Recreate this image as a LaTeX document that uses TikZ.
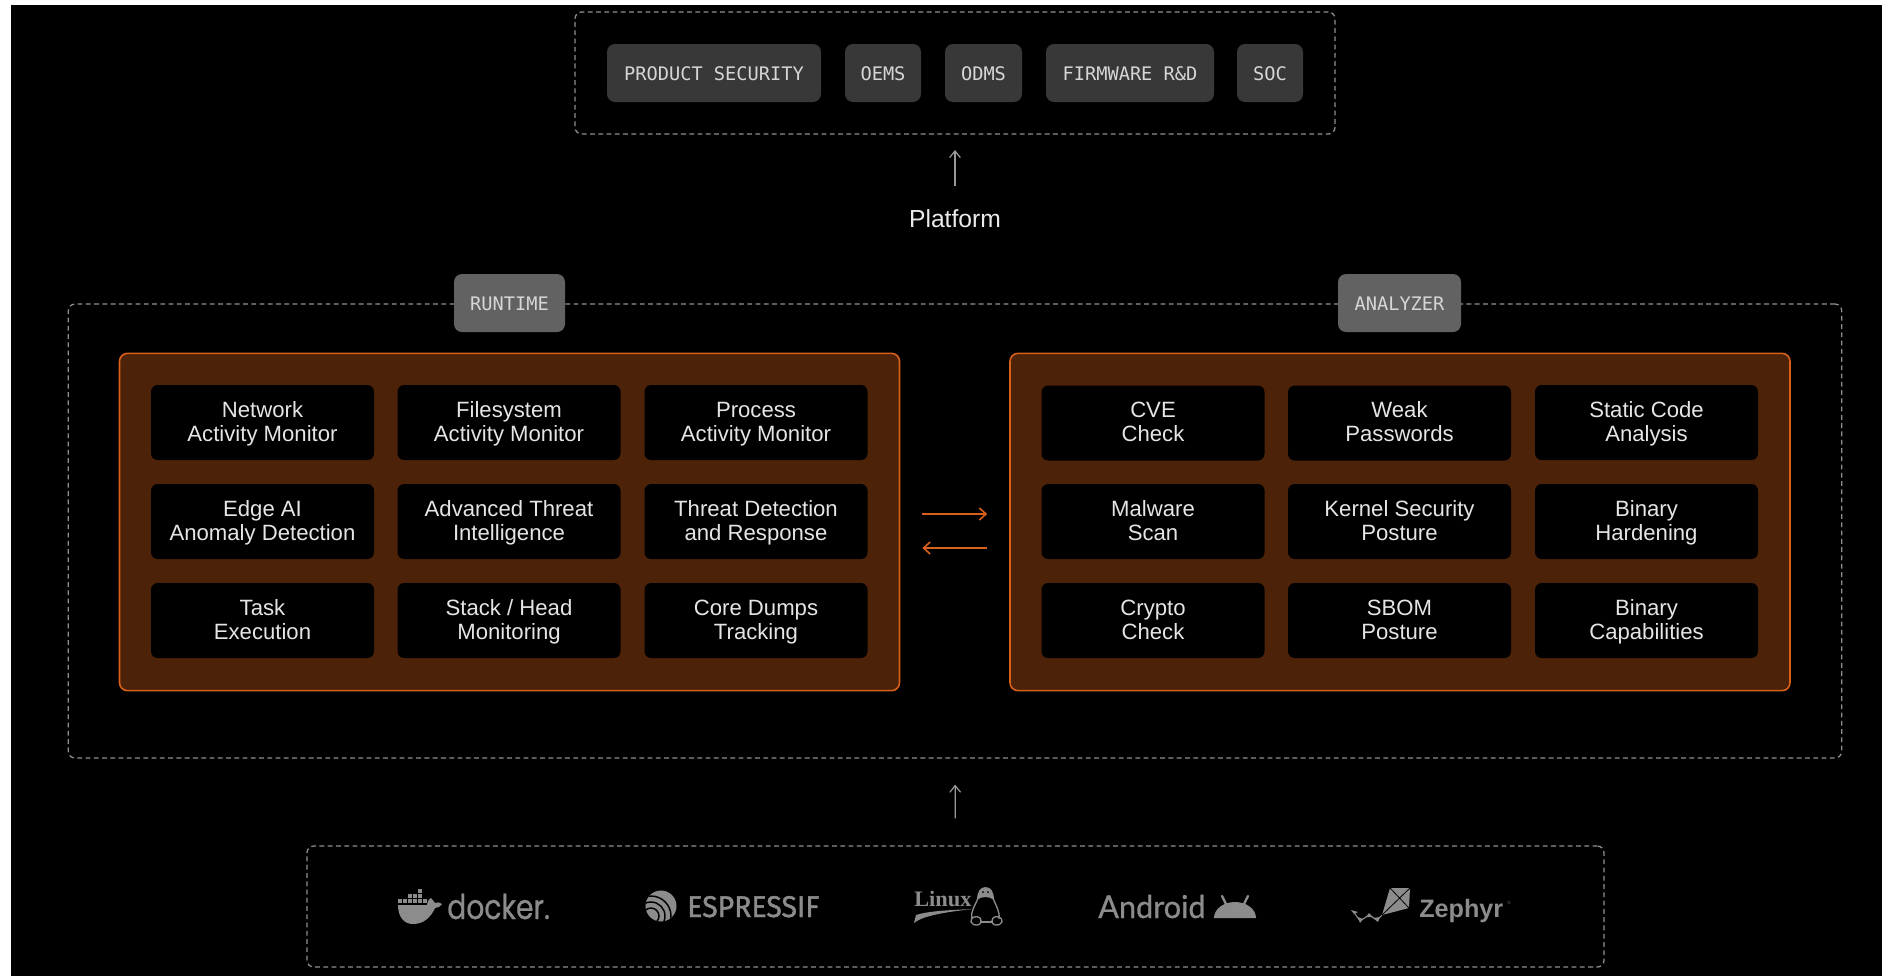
\documentclass[tikz,border=0pt]{standalone}
\usepackage{fontspec}
\usepackage{graphicx}
\setmainfont{Liberation Sans}
\newfontfamily\monof{DejaVu Sans Mono}
\newfontfamily\serifb{Liberation Serif}
\newfontfamily\popf[FakeBold=0.6]{Poppins}
\newfontfamily\latof[FakeBold=0.8]{Lato}
\newfontfamily\fira[FakeBold=1.4]{Fira Sans}
\usetikzlibrary{arrows.meta}
\definecolor{chipA}{HTML}{383838}
\definecolor{chipB}{HTML}{626262}
\definecolor{chipT}{HTML}{D6D6D6}
\definecolor{dashc}{HTML}{8F8F8F}
\definecolor{panelF}{HTML}{4C2209}
\definecolor{orangeL}{HTML}{D9601A}
\definecolor{logoc}{HTML}{8C8C8C}
\definecolor{upc}{HTML}{9A9A9A}
\tikzset{
  dashbox/.style={draw=dashc,line width=0.95pt,dash pattern=on 3.6pt off 2.6pt,rounded corners=5pt,inner sep=0pt,fill=none},
  chip/.style={fill=chipA,rounded corners=6pt,inner sep=0pt,minimum height=43.5pt,text=chipT,text height=11.5pt,text depth=0pt,font=\monof\fontsize{14}{16}\selectfont},
  chiptwo/.style={chip,fill=chipB,minimum height=43.5pt},
  panel/.style={fill=panelF,draw=orangeL,line width=1.2pt,rounded corners=6pt,inner sep=0pt},
  cardbox/.style={fill=black,rounded corners=5pt,inner sep=0pt,minimum width=167.25pt,minimum height=56.25pt,text=white!90!black,align=center,font=\fontsize{16.6}{18.2}\selectfont},
  uparrow/.style={draw=upc,line width=0.95pt,-{Straight Barb[length=5pt,width=8pt,line width=0.9pt]}},
  orangearrow/.style={draw=orangeL,line width=1.2pt,-{Straight Barb[length=5pt,width=9pt,line width=1.2pt]}},
  logotxt/.style={inner sep=0pt,anchor=base west,text=logoc},
}
\newcommand{\cardn}[4]{\node[cardbox] (#1) at (#2,#3) {\rule{0pt}{14pt}#4\rule[-4pt]{0pt}{4pt}};}
\begin{document}
\begin{tikzpicture}[x=0.75pt,y=-0.75pt]
\useasboundingbox (0,0) rectangle (1882,976);
\fill[white] (0,0) rectangle (1882,976);
\fill[black] (11,5) rectangle (1882,976);

% top group
\node[dashbox,minimum width=570pt,minimum height=91.5pt] (topbox) at (955,73) {};
\node[chip,minimum width=160.5pt] (prod) at (714,73) {PRODUCT SECURITY};
\node[chip,minimum width=57pt] (oems) at (883,73) {OEMS};
\node[chip,minimum width=57.75pt] (odms) at (983.5,73) {ODMS};
\node[chip,minimum width=126pt] (firm) at (1130,73) {FIRMWARE R\&D};
\node[chip,minimum width=49.5pt] (soc) at (1270,73) {SOC};
\node[inner sep=0pt,text=white!92!black,font=\fontsize{18.5}{20}\selectfont] (platform) at (955,219) {Platform};
\draw[uparrow,shorten >=11.5pt,shorten <=18pt] (platform.north) -- (topbox.south);

% middle group
\node[dashbox,minimum width=1330pt,minimum height=340.5pt] (midbox) at (955,531) {};
\node[chiptwo,minimum width=83.25pt] (runtime) at (509.5,303) {RUNTIME};
\node[chiptwo,minimum width=92.25pt] (analyzer) at (1399.5,303) {ANALYZER};
\node[panel,minimum width=585pt,minimum height=253pt] (leftp) at (509.5,522) {};
\node[panel,minimum width=585pt,minimum height=253pt] (rightp) at (1400,522) {};

\cardn{a1}{262.5}{422.5}{Network\\Activity Monitor}
\cardn{a2}{509}{422.5}{Filesystem\\Activity Monitor}
\cardn{a3}{756}{422.5}{Process\\Activity Monitor}
\cardn{a4}{262.5}{521.5}{Edge AI\\Anomaly Detection}
\cardn{a5}{509}{521.5}{Advanced Threat\\Intelligence}
\cardn{a6}{756}{521.5}{Threat Detection\\and Response}
\cardn{a7}{262.5}{620.5}{Task\\Execution}
\cardn{a8}{509}{620.5}{Stack / Head\\Monitoring}
\cardn{a9}{756}{620.5}{Core Dumps\\Tracking}

\cardn{b1}{1153}{423}{CVE\\Check}
\cardn{b2}{1399.5}{423}{Weak\\Passwords}
\cardn{b3}{1646.5}{422.5}{Static Code\\Analysis}
\cardn{b4}{1153}{521.5}{Malware\\Scan}
\cardn{b5}{1399.5}{521.5}{Kernel Security\\Posture}
\cardn{b6}{1646.5}{521.5}{Binary\\Hardening}
\cardn{b7}{1153}{620.5}{Crypto\\Check}
\cardn{b8}{1399.5}{620.5}{SBOM\\Posture}
\cardn{b9}{1646.5}{620.5}{Binary\\Capabilities}

\draw[orangearrow,shorten >=16.5pt,shorten <=16.5pt] ([yshift=6pt]leftp.east) -- ([yshift=6pt]rightp.west);
\draw[orangearrow,shorten >=16.5pt,shorten <=17pt] ([yshift=-19.5pt]rightp.west) -- ([yshift=-19.5pt]leftp.east);

% bottom group
\node[dashbox,minimum width=972.75pt,minimum height=90.75pt] (botbox) at (955.5,906.5) {};
\draw[uparrow,shorten >=19.5pt,shorten <=20.25pt] (botbox.north) -- (midbox.south);

% docker logo
\fill[logoc] (398,905) -- (427,905) .. controls (427,902) and (428,900) .. (431,898)
  .. controls (433,900) and (434,902) .. (435,903) .. controls (437,902) and (440,902) .. (442,904)
  .. controls (440,907) and (437,908) .. (435,908) .. controls (431,917) and (424,924) .. (413,924)
  .. controls (404,924) and (398,917) .. (398,905) -- cycle;
\foreach \xx in {398,403,408,413,418,423}{\fill[logoc] (\xx,899) rectangle ++(4,4);}
\foreach \xx in {408,413,418}{\fill[logoc] (\xx,894) rectangle ++(4,4);}
\fill[logoc] (418,889) rectangle ++(4,4);
\node[logotxt] (dockert) at (447,919) {\resizebox{77pt}{19pt}{\popf docker.}};

% espressif logo
\begin{scope}
\fill[logoc] (661,906) circle[radius=15.5];
\clip (661,906) circle[radius=15.5];
\foreach \rr in {8,14,20}{\draw[black,line width=1.1pt] (651,916) circle[radius=\rr];}
\fill[black] (645,922) rectangle (649,919);
\end{scope}
\node[logotxt] (esp) at (687,917) {\resizebox{99pt}{15.75pt}{\fira ESPRESSIF}};

% linux logo
\node[logotxt,font=\serifb\bfseries] (linuxt) at (914,906) {\resizebox{43pt}{11.5pt}{Linux}};
\fill[logoc] (973,909) .. controls (950,910) and (928,911) .. (916,915) -- (914,923)
  .. controls (922,916) and (945,912) .. (973,909) -- cycle;
\fill[logoc] (977,900) .. controls (977,892) and (980,887) .. (985.5,887) .. controls (991,887) and (994,892) .. (994,900) .. controls (990,896) and (981,896) .. (977,900) -- cycle;
\fill[black] (983,892) circle[radius=1] (988,892) circle[radius=1];
\draw[logoc,line width=1pt] (978,898) .. controls (975,906) and (970,912) .. (972,919) (993,898) .. controls (996,906) and (1000,911) .. (999,919);
\draw[logoc,line width=1pt] (971,922) .. controls (970,917) and (977,915) .. (980,918) .. controls (982,921) and (981,925) .. (977,925) .. controls (975,925) and (972,925) .. (971,922) -- cycle;
\draw[logoc,line width=1pt] (1002,922) .. controls (1003,917) and (996,915) .. (993,918) .. controls (991,921) and (992,925) .. (996,925) .. controls (998,925) and (1001,925) .. (1002,922) -- cycle;
\draw[logoc,line width=0.9pt] (981,922) -- (992,922);

% android logo
\node[logotxt] (andr) at (1098,918) {\resizebox{80.5pt}{17.4pt}{\latof Android}};
\fill[logoc] (1214,918) arc[start angle=180,end angle=360,x radius=21,y radius=16] -- cycle;
\draw[logoc,line width=1.8pt,line cap=round] (1226,904) -- (1222,896) (1244,904) -- (1248,896);

% zephyr logo
\fill[logoc] (1390,888) -- (1410,888) -- (1409,908) -- (1382,915) -- cycle;
\draw[black,line width=0.6pt] (1390,888) -- (1409,908) (1410,888) -- (1382,915);
\draw[logoc,line width=0.8pt] (1382,915) -- (1377,920) -- (1369,915) -- (1360,921) -- (1353,911);
\fill[logoc] (1351,910) -- (1358,912) -- (1354,914) -- cycle;
\fill[logoc] (1358,917) -- (1363,919) -- (1360,923) -- cycle;
\fill[logoc] (1369,913) -- (1373,917) -- (1366,917) -- cycle;
\fill[logoc] (1373,918) -- (1380,917) -- (1378,922) -- cycle;
\node[logotxt,font=\bfseries] (zeph) at (1419,917) {\resizebox{63pt}{!}{Zephyr}};
\node[inner sep=0pt,text=logoc!70!black,font=\fontsize{3.5}{4}\selectfont] (zephr) at (1509,903) {®};
\end{tikzpicture}
\end{document}
